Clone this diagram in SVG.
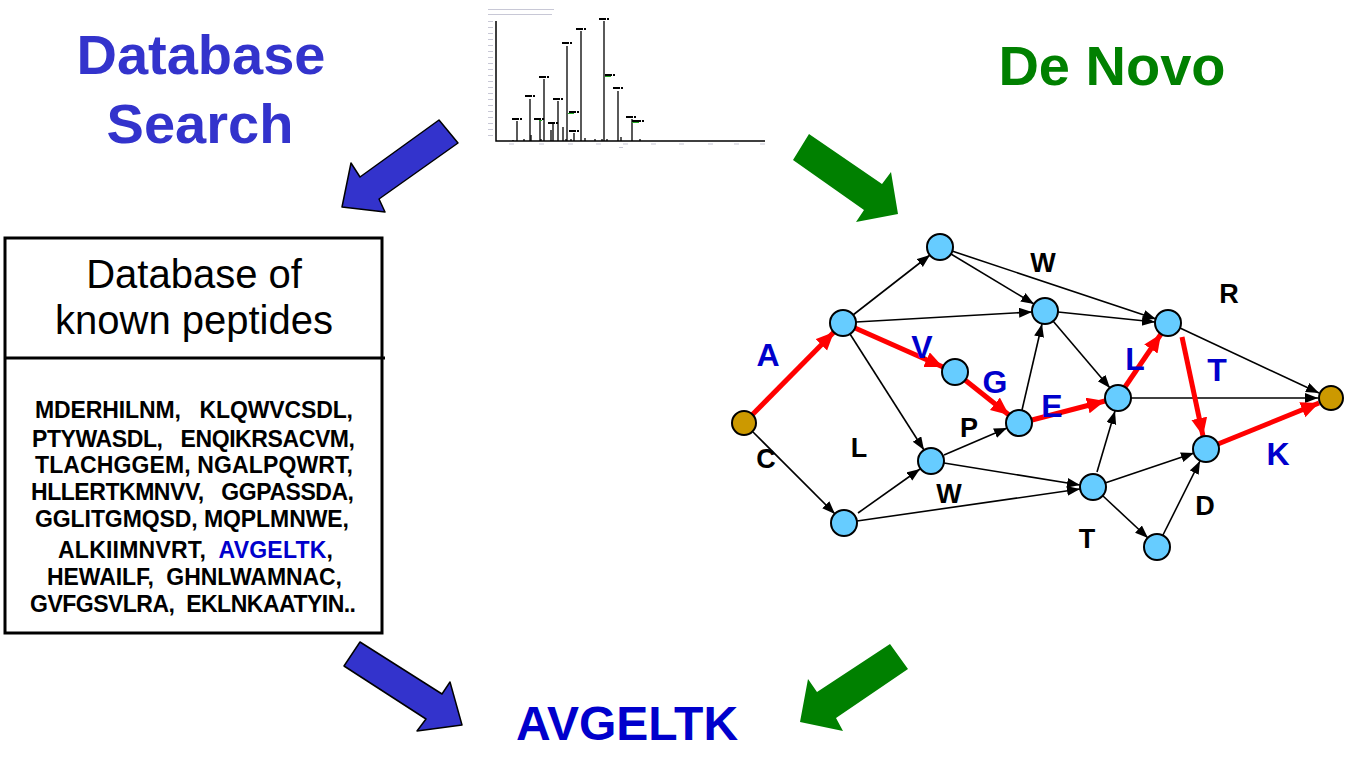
<svg xmlns="http://www.w3.org/2000/svg" width="1346" height="760" viewBox="0 0 1346 760">
<style>
.t{font-family:"Liberation Sans",Arial,sans-serif}
.title{font-family:"Liberation Sans",Arial,sans-serif;font-weight:bold;text-anchor:middle}
.blk{stroke:#000;stroke-width:1.6;fill:none;marker-end:url(#ah)}
.red{stroke:#f00;stroke-width:5;fill:none;marker-end:url(#rh)}
.node{fill:#66CCFF;stroke:#000;stroke-width:2}
.term{fill:#CC9900;stroke:#000;stroke-width:2}
.lb{font-family:"Liberation Sans",Arial,sans-serif;font-weight:bold;font-size:27px;text-anchor:middle;fill:#000}
.lr{font-family:"Liberation Sans",Arial,sans-serif;font-weight:bold;font-size:32px;text-anchor:middle;fill:#0000CC}
.pk{stroke:#000;stroke-width:1.3}
.pl{fill:#000}
.gr{fill:#22aa22}
.tick{fill:#c8c8d6}
.pep{font-family:"Liberation Sans",Arial,sans-serif;font-weight:bold;font-size:23px;fill:#000;white-space:pre}
</style>
<defs>
<marker id="ah" markerUnits="userSpaceOnUse" markerWidth="14" markerHeight="12" refX="13" refY="5" orient="auto">
<path d="M0,0 L13,5 L0,10 z" fill="#000"/>
</marker>
<marker id="rh" markerUnits="userSpaceOnUse" markerWidth="20" markerHeight="18" refX="18" refY="8" orient="auto">
<path d="M0,0 L18,8 L0,16 z" fill="#f00"/>
</marker>
</defs>
<rect width="1346" height="760" fill="#fff"/>

<!-- titles -->
<g id="title-db">
<text class="title" x="201" y="74" font-size="56" fill="#3333CC">Database</text>
<text class="title" x="200" y="143" font-size="56" fill="#3333CC">Search</text>
</g>
<g id="title-denovo">
<text class="title" x="1112" y="85" font-size="56" fill="#008000">De Novo</text>
</g>
<g id="result">
<text class="title" x="627" y="740" font-size="48" fill="#0000CC">AVGELTK</text>
</g>

<!-- big arrows -->
<g id="big-arrows">
<polygon points="439,120 458,143 379,199 385,212 342,207 351,163 360,177" fill="#3333CC" stroke="#000" stroke-width="1.5" stroke-linejoin="round"/>
<polygon points="809,134 793,160 864,210 856,222 898,214 891,172 882,184" fill="#008000"/>
<polygon points="360,642 344,666 426,719 417,731 462,725 450,682 442,694" fill="#3333CC" stroke="#000" stroke-width="1.5" stroke-linejoin="round"/>
<polygon points="890,644 908,669 836,718 843,731 800,722 808,679 817,692" fill="#008000"/>
</g>

<!-- spectrum -->
<g id="spectrum">
<rect class="tick" x="488" y="9" width="66" height="1"/>
<rect class="tick" x="488" y="14" width="64" height="1"/>
<g class="tick">
<rect x="488" y="21" width="5" height="1"/><rect x="488" y="27" width="5" height="1"/><rect x="488" y="33" width="5" height="1"/><rect x="488" y="39" width="5" height="1"/><rect x="488" y="45" width="5" height="1"/><rect x="488" y="51" width="5" height="1"/><rect x="488" y="57" width="5" height="1"/><rect x="488" y="63" width="5" height="1"/><rect x="488" y="69" width="5" height="1"/><rect x="488" y="75" width="5" height="1"/><rect x="488" y="81" width="5" height="1"/><rect x="488" y="87" width="5" height="1"/><rect x="488" y="93" width="5" height="1"/><rect x="488" y="99" width="5" height="1"/><rect x="488" y="105" width="5" height="1"/><rect x="488" y="111" width="5" height="1"/><rect x="488" y="117" width="5" height="1"/><rect x="488" y="123" width="5" height="1"/><rect x="488" y="129" width="5" height="1"/><rect x="488" y="135" width="5" height="1"/>
<rect x="509" y="143.5" width="5" height="1"/><rect x="539" y="143.5" width="5" height="1"/><rect x="568" y="143.5" width="5" height="1"/><rect x="596" y="143.5" width="5" height="1"/><rect x="623" y="143.5" width="5" height="1"/><rect x="651" y="143.5" width="5" height="1"/><rect x="679" y="143.5" width="5" height="1"/><rect x="708" y="143.5" width="5" height="1"/><rect x="734" y="143.5" width="5" height="1"/><rect x="760" y="143.5" width="5" height="1"/>
<rect x="619" y="147" width="4" height="1"/>
</g>
<path d="M496,21 V141 H765" stroke="#000" stroke-width="1.5" fill="none"/>
<g class="pk">
<line x1="517" y1="141" x2="517" y2="121"/>
<line x1="530" y1="141" x2="530" y2="99"/>
<line x1="540" y1="141" x2="540" y2="120"/>
<line x1="544" y1="141" x2="544" y2="79"/>
<line x1="551" y1="141" x2="551" y2="130"/>
<line x1="553" y1="141" x2="553" y2="124"/>
<line x1="558" y1="141" x2="558" y2="101"/>
<line x1="563" y1="141" x2="563" y2="127"/>
<line x1="567" y1="141" x2="567" y2="46"/>
<line x1="574" y1="141" x2="574" y2="133"/>
<line x1="581" y1="141" x2="581" y2="31"/>
<line x1="604" y1="141" x2="604" y2="21"/>
<line x1="618" y1="141" x2="618" y2="91"/>
<line x1="632" y1="141" x2="632" y2="119"/>
<line x1="621" y1="141" x2="621" y2="137"/>
<line x1="531" y1="141" x2="531" y2="135"/>
<line x1="513" y1="141" x2="513" y2="140"/>
<line x1="524" y1="141" x2="524" y2="139"/>
<line x1="541" y1="141" x2="541" y2="139"/>
<line x1="566" y1="141" x2="566" y2="139"/>
<line x1="571" y1="141" x2="571" y2="139"/>
<line x1="585" y1="141" x2="585" y2="138"/>
<line x1="595" y1="141" x2="595" y2="139"/>
<line x1="602" y1="141" x2="602" y2="139"/>
<line x1="607" y1="141" x2="607" y2="139"/>
<line x1="640" y1="141" x2="640" y2="139"/>
</g>
<g class="pl">
<rect x="512" y="118" width="7" height="2"/><rect x="520" y="118" width="2" height="2"/>
<rect x="525" y="95" width="7" height="2"/><rect x="533" y="95" width="2" height="2"/>
<rect x="534" y="118" width="7" height="2"/><rect x="542" y="118" width="2" height="2"/>
<rect x="539" y="76" width="7" height="2"/><rect x="547" y="76" width="2" height="2"/>
<rect x="548" y="122" width="7" height="2"/><rect x="556" y="122" width="2" height="2"/>
<rect x="553" y="98" width="7" height="2"/><rect x="561" y="98" width="2" height="2"/>
<rect x="562" y="42" width="7" height="2"/><rect x="570" y="42" width="2" height="2"/>
<rect x="569" y="111" width="7" height="2"/><rect x="577" y="111" width="2" height="2"/>
<rect x="569" y="130" width="7" height="2"/><rect x="577" y="130" width="2" height="2"/>
<rect x="576" y="28" width="7" height="2"/><rect x="584" y="28" width="2" height="2"/>
<rect x="599" y="18" width="7" height="2"/><rect x="607" y="18" width="2" height="2"/>
<rect x="605" y="74" width="7" height="2"/><rect x="613" y="74" width="2" height="2"/>
<rect x="613" y="87" width="7" height="2"/><rect x="621" y="87" width="2" height="2"/>
<rect x="626" y="116" width="7" height="2"/><rect x="634" y="116" width="2" height="2"/>
<rect x="632" y="120" width="9" height="2"/><rect x="642" y="120" width="2" height="2"/>
</g>
<g class="gr">
<rect x="539" y="120" width="3" height="1"/>
<rect x="568" y="113" width="6" height="1"/>
<rect x="605" y="76" width="6" height="1"/>
<rect x="632" y="122" width="7" height="1"/>
</g>
</g>

<!-- database box -->
<g id="db-box">
<rect x="5" y="238" width="377" height="395" fill="none" stroke="#000" stroke-width="3"/>
<line x1="5" y1="358" x2="385" y2="358" stroke="#000" stroke-width="3"/>
<text class="t" x="194" y="288" font-size="40" text-anchor="middle">Database of</text>
<text class="t" x="194" y="334" font-size="40" text-anchor="middle">known peptides</text>
<text class="pep" xml:space="preserve" x="35" y="418" textLength="318" lengthAdjust="spacing">MDERHILNM,   KLQWVCSDL,</text>
<text class="pep" xml:space="preserve" x="32" y="447" textLength="323" lengthAdjust="spacing">PTYWASDL,   ENQIKRSACVM,</text>
<text class="pep" xml:space="preserve" x="35" y="473" textLength="318" lengthAdjust="spacing">TLACHGGEM, NGALPQWRT,</text>
<text class="pep" xml:space="preserve" x="31" y="500" textLength="323" lengthAdjust="spacing">HLLERTKMNVV,   GGPASSDA,</text>
<text class="pep" xml:space="preserve" x="35" y="527" textLength="314" lengthAdjust="spacing">GGLITGMQSD, MQPLMNWE,</text>
<text class="pep" xml:space="preserve" x="58" y="558" textLength="275" lengthAdjust="spacing">ALKIIMNVRT,  <tspan fill="#0000CC">AVGELTK</tspan>,</text>
<text class="pep" xml:space="preserve" x="47" y="585" textLength="295" lengthAdjust="spacing">HEWAILF,  GHNLWAMNAC,</text>
<text class="pep" xml:space="preserve" x="30" y="612" textLength="326" lengthAdjust="spacing">GVFGSVLRA,  EKLNKAATYIN..</text>
</g>

<!-- connectors -->
<g id="connectors">
<line class="blk" x1="853" y1="315" x2="930" y2="255"/>
<line class="blk" x1="951" y1="254" x2="1034" y2="304"/>
<line class="blk" x1="952" y1="251" x2="1156" y2="319"/>
<line class="blk" x1="856" y1="322" x2="1032" y2="312"/>
<line class="blk" x1="850" y1="334" x2="924" y2="450"/>
<line class="blk" x1="1058" y1="312" x2="1155" y2="322"/>
<line class="blk" x1="1053" y1="321" x2="1110" y2="388"/>
<line class="blk" x1="1180" y1="328" x2="1319" y2="393"/>
<line class="blk" x1="1131" y1="398" x2="1318" y2="398"/>
<line class="blk" x1="1022" y1="410" x2="1042" y2="324"/>
<line class="blk" x1="944" y1="455" x2="1007" y2="428"/>
<line class="blk" x1="944" y1="463" x2="1080" y2="485"/>
<line class="blk" x1="753" y1="432" x2="835" y2="514"/>
<line class="blk" x1="858" y1="513" x2="920" y2="469"/>
<line class="blk" x1="857" y1="521" x2="1080" y2="489"/>
<line class="blk" x1="1097" y1="472" x2="1115" y2="411"/>
<line class="blk" x1="1105" y1="483" x2="1194" y2="453"/>
<line class="blk" x1="1103" y1="496" x2="1148" y2="538"/>
<line class="blk" x1="1163" y1="535" x2="1200" y2="461"/>

<line class="red" x1="751" y1="416" x2="834" y2="332"/>
<line class="red" x1="855" y1="328" x2="943" y2="367"/>
<line class="red" x1="965" y1="380" x2="1009" y2="415"/>
<line class="red" x1="1032" y1="420" x2="1105" y2="401"/>
<line class="red" x1="1125" y1="387" x2="1161" y2="334"/>
<line class="red" x1="1182" y1="337" x2="1203" y2="436"/>
<line class="red" x1="1218" y1="444" x2="1319" y2="403"/>
</g>

<!-- nodes -->
<g id="n-start"><circle class="term" cx="744" cy="423" r="12"/></g>
<g id="n-end"><circle class="term" cx="1331" cy="398" r="12"/></g>
<g id="n1"><circle class="node" cx="843" cy="323" r="13"/></g>
<g id="n2"><circle class="node" cx="940" cy="247" r="13"/></g>
<g id="n3"><circle class="node" cx="955" cy="372" r="13"/></g>
<g id="n4"><circle class="node" cx="1045" cy="311" r="13"/></g>
<g id="n5"><circle class="node" cx="1019" cy="423" r="13"/></g>
<g id="n6"><circle class="node" cx="931" cy="461" r="13"/></g>
<g id="n7"><circle class="node" cx="844" cy="523" r="13"/></g>
<g id="n8"><circle class="node" cx="1093" cy="487" r="13"/></g>
<g id="n9"><circle class="node" cx="1118" cy="398" r="13"/></g>
<g id="n10"><circle class="node" cx="1168" cy="323" r="13"/></g>
<g id="n11"><circle class="node" cx="1206" cy="449" r="13"/></g>
<g id="n12"><circle class="node" cx="1157" cy="547" r="13"/></g>

<!-- edge labels -->
<g id="labels">
<text class="lb" x="1043" y="272">W</text>
<text class="lb" x="1229" y="303">R</text>
<text class="lb" x="766" y="468">C</text>
<text class="lb" x="859" y="457">L</text>
<text class="lb" x="969" y="437">P</text>
<text class="lb" x="949" y="503">W</text>
<text class="lb" x="1087" y="548">T</text>
<text class="lb" x="1205" y="515">D</text>
<text class="lr" x="768" y="366">A</text>
<text class="lr" x="922" y="358">V</text>
<text class="lr" x="995" y="393">G</text>
<text class="lr" x="1052" y="417">E</text>
<text class="lr" x="1135" y="370">L</text>
<text class="lr" x="1217" y="381">T</text>
<text class="lr" x="1278" y="465">K</text>
</g>
</svg>
